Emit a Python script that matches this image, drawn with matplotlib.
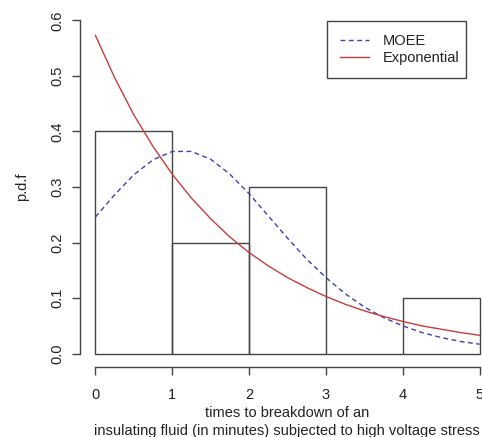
import matplotlib
matplotlib.use("Agg")
import matplotlib.pyplot as plt

plt.rcParams['font.family'] = ['Liberation Sans', 'DejaVu Sans']

# histogram (density scale)
bin_edges = [0, 1, 2, 3, 4, 5]
bin_density = [0.4, 0.2, 0.3, 0.0, 0.1]

# fitted densities
x_grid = [0, 0.25, 0.5, 0.75, 1, 1.25, 1.5, 1.75, 2, 2.25, 2.5,
          2.75, 3, 3.25, 3.5, 3.75, 4, 4.25, 4.5, 4.75, 5]
moee_pdf = [0.246, 0.286, 0.322, 0.349, 0.364, 0.364, 0.350, 0.323, 0.288, 0.248, 0.208,
            0.170, 0.137, 0.108, 0.084, 0.065, 0.050, 0.038, 0.029, 0.022, 0.017]
expo_pdf = [0.573, 0.497, 0.430, 0.373, 0.323, 0.280, 0.243, 0.210, 0.182, 0.158, 0.137,
            0.119, 0.103, 0.089, 0.077, 0.067, 0.058, 0.050, 0.044, 0.038, 0.033]

W, H = 482, 437
fig = plt.figure(figsize=(W / 100, H / 100), dpi=100)
# plot region in pixels: left 80, right 495 (past the image edge), top 7, bottom 367
ax = fig.add_axes([80 / W, (H - 367) / H, 415 / W, 360 / H])

axcol = "#444444"
txtcol = "#222222"
ax.bar(bin_edges[:-1], bin_density, width=1, align="edge", fill=False,
       edgecolor=axcol, linewidth=1.0)
ax.plot(x_grid, moee_pdf, color="#4040b4", linestyle=(0, (3.5, 2.5)), linewidth=1.0, label="MOEE")
ax.plot(x_grid, expo_pdf, color="#c83c3c", linewidth=1.0, label="Exponential")

ax.set_xlim(-0.2, 5.2)
ax.set_ylim(-0.024, 0.624)
ax.set_xticks([0, 1, 2, 3, 4, 5])
ax.set_yticks([0.0, 0.1, 0.2, 0.3, 0.4, 0.5, 0.6])
ax.set_yticklabels(["0.0", "0.1", "0.2", "0.3", "0.4", "0.5", "0.6"], rotation=90, va="center")

for s in ["top", "right"]:
    ax.spines[s].set_visible(False)
ax.spines["left"].set_bounds(0, 0.6)
ax.spines["bottom"].set_bounds(0, 5)
for s in ["left", "bottom"]:
    ax.spines[s].set_color(axcol)
    ax.spines[s].set_linewidth(1.0)
ax.tick_params(axis="both", direction="out", length=6, width=1.0, color=axcol,
               labelsize=10.5, labelcolor=txtcol)
ax.tick_params(axis="x", pad=9)
ax.tick_params(axis="y", pad=5)

ax.set_xlabel("times to breakdown of an\ninsulating fluid (in minutes) subjected to high voltage stress",
              fontsize=10.5, color=txtcol, linespacing=1.4)
ax.set_ylabel("p.d.f", fontsize=10.5, color=txtcol, labelpad=15.5)
ax.xaxis.set_label_coords((287 - 80) / 415, -(406 - 367) / 360)

leg = ax.legend(loc="upper left", bbox_to_anchor=(327 / W, (H - 21) / H, 139 / W, 0.001),
                bbox_transform=fig.transFigure, mode="expand", fancybox=False, framealpha=1,
                edgecolor=axcol, fontsize=10.5, handlelength=2.0, handletextpad=0.9,
                borderpad=0.9, labelspacing=0.2, borderaxespad=0)
leg.get_frame().set_linewidth(1.0)
for t in leg.get_texts():
    t.set_color(txtcol)

fig.savefig("out.png", dpi=100)
